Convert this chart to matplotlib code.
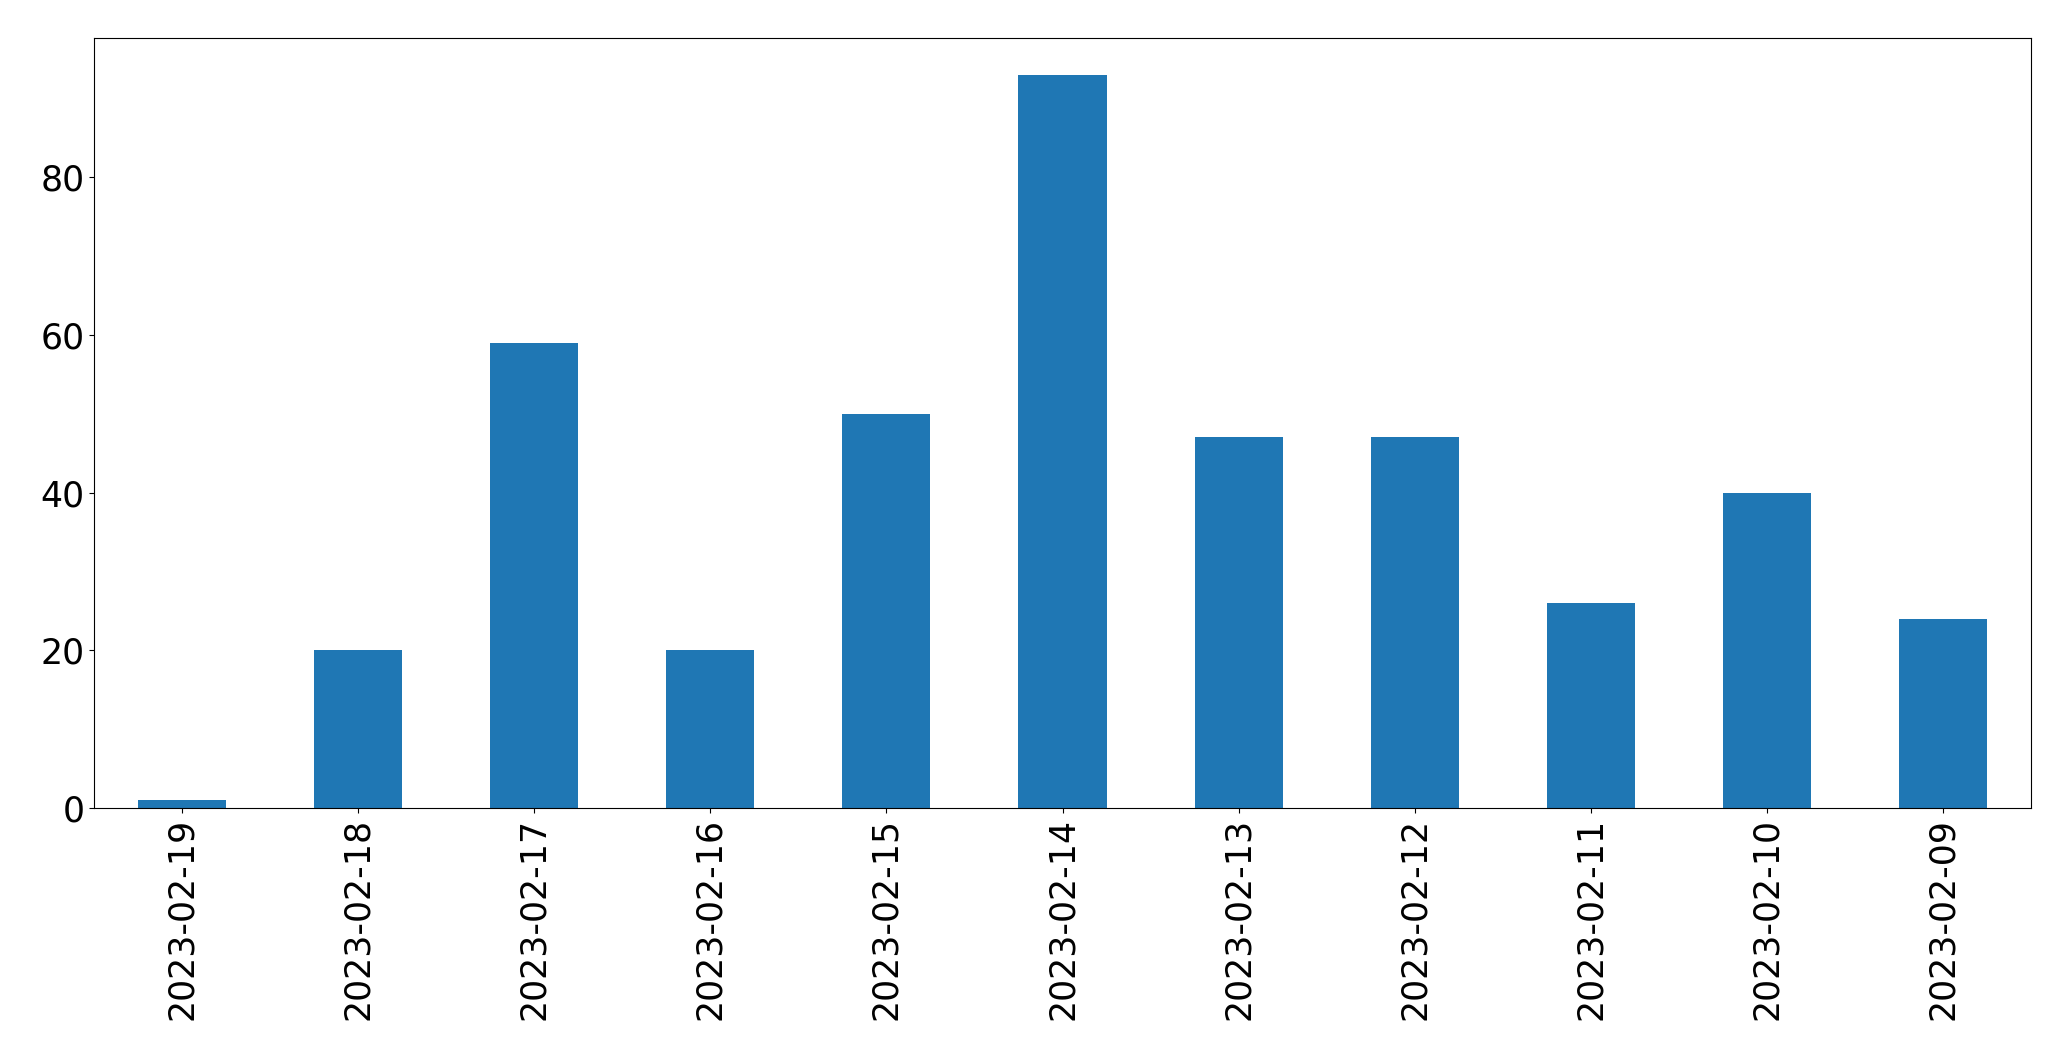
import matplotlib
matplotlib.use("Agg")
import matplotlib.pyplot as plt
import pandas as pd

dates = ["2023-02-19", "2023-02-18", "2023-02-17", "2023-02-16", "2023-02-15",
         "2023-02-14", "2023-02-13", "2023-02-12", "2023-02-11", "2023-02-10", "2023-02-09"]
counts = [1, 20, 59, 20, 50, 93, 47, 47, 26, 40, 24]

W, H = 2071, 1061
fig = plt.figure(figsize=(W / 100, H / 100), dpi=100)
ax = fig.add_axes([94 / W, 1 - 808 / H, (2031 - 94) / W, (808 - 38) / H])
s = pd.Series(counts, index=dates)
s.plot(kind="bar", ax=ax, color="#1f77b4", fontsize=25)
ax.tick_params(axis="both", labelsize=25)
fig.savefig("out.png", dpi=100)
